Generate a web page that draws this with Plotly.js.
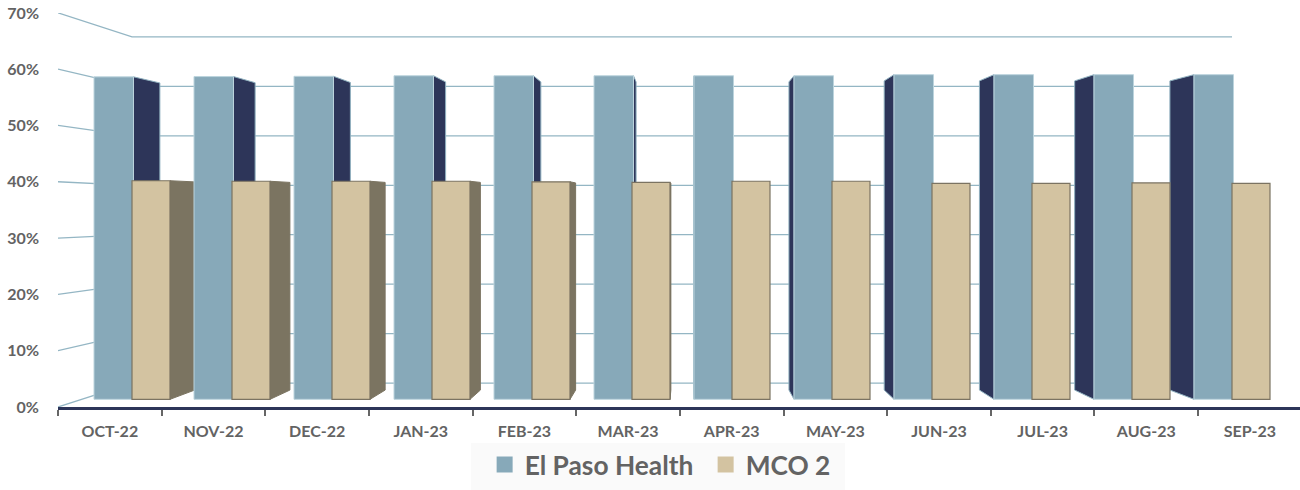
<!DOCTYPE html>
<html>
<head>
<meta charset="utf-8">
<script src="https://cdn.plot.ly/plotly-3.0.1.min.js"></script>
<style>html,body{margin:0;padding:0;background:#fff}#chart{width:1300px;height:490px}</style>
</head>
<body>
<div id="chart"></div>
<script>
// ---- data ----
const categories = ['OCT-22','NOV-22','DEC-22','JAN-23','FEB-23','MAR-23','APR-23','MAY-23','JUN-23','JUL-23','AUG-23','SEP-23'];
const elPasoHealth = [59.6,59.65,59.7,59.8,59.8,59.8,59.8,59.8,60.0,60.0,60.0,60.0];
const mco2 = [40.4,40.3,40.3,40.3,40.2,40.1,40.3,40.3,39.9,39.9,40.0,39.9];
const gridValues = [0,10,20,30,40,50,60,70];

// ---- styling and perspective model ----
const COLORS = {blue:'#87a9b9', blueEdge:'#bcd4dd', blueSide:'#2d3559', tan:'#d3c3a1', tanEdge:'#7b7362', tanSide:'#7b7461', grid:'#94b6c4', text:'#636363'};
const BAR_W = 0.395, TAN_OFF = 0.38, TAN_W = 0.38;
const VP_X = 5.94, VP_Y = 35.9, DEPTH = 0.0476;          // vanishing point in bar-plane units
const FRONT = {x:-0.36, a:1.0407, b:-1.42};               // front edge of the wall gridlines
const WALL  = {x0:0.38, x1:11.38, a:0.9137, b:3.01};      // back wall
const X_RANGE = [-0.36,12.06], Y_RANGE = [-1.42,71.4];

function sideFace(xf, v){
  const xb = xf + (VP_X-xf)*DEPTH;
  const yTop = v + (VP_Y-v)*DEPTH;
  const yBot = VP_Y*DEPTH;
  return {x:[xf,xb,xb,xf,xf], y:[v,yTop,yBot,0,v]};
}
function faceTrace(face,fill,edge){
  return {type:'scatter',mode:'lines',x:face.x,y:face.y,fill:'toself',fillcolor:fill,
    line:{color:edge,width:1},xaxis:'x2',yaxis:'y2',showlegend:false,hoverinfo:'skip'};
}

const traces = [];
// legend entries and the category axis
traces.push({type:'scatter',mode:'markers',name:'El Paso Health',x:categories,y:categories.map(()=>null),
  marker:{symbol:'square',size:16,color:COLORS.blue},xaxis:'x',yaxis:'y',hoverinfo:'skip'});
traces.push({type:'scatter',mode:'markers',name:'MCO 2',x:categories,y:categories.map(()=>null),
  marker:{symbol:'square',size:16,color:COLORS.tan},xaxis:'x',yaxis:'y',hoverinfo:'skip'});

// wall gridlines with their slanted lead-in from the front edge
gridValues.forEach(v=>{
  traces.push({type:'scatter',mode:'lines',
    x:[FRONT.x,WALL.x0,WALL.x1],
    y:[FRONT.a*v+FRONT.b,WALL.a*v+WALL.b,WALL.a*v+WALL.b],
    line:{color:COLORS.grid,width:1.3},xaxis:'x2',yaxis:'y2',showlegend:false,hoverinfo:'skip'});
});

// receding side faces
categories.forEach((c,i)=>{
  const l=i, r=i+BAR_W;
  if(r<VP_X) traces.push(faceTrace(sideFace(r,elPasoHealth[i]),COLORS.blueSide,'#8fb0bf'));
  else if(l>VP_X) traces.push(faceTrace(sideFace(l,elPasoHealth[i]),COLORS.blueSide,'#8fb0bf'));
  const tr=i+TAN_OFF+TAN_W;
  if(tr<VP_X) traces.push(faceTrace(sideFace(tr,mco2[i]),COLORS.tanSide,COLORS.tanSide));
});

// front faces
const idx = categories.map((c,i)=>i);
traces.push({type:'bar',name:'El Paso Health',x:idx,y:elPasoHealth,width:BAR_W,offset:0,
  marker:{color:COLORS.blue,line:{color:COLORS.blueEdge,width:1}},xaxis:'x3',yaxis:'y3',showlegend:false,
  text:categories,hovertemplate:'%{text}: %{y}%<extra>El Paso Health</extra>',textposition:'none'});
traces.push({type:'bar',name:'MCO 2',x:idx,y:mco2,width:TAN_W,offset:TAN_OFF,
  marker:{color:COLORS.tan,line:{color:COLORS.tanEdge,width:1.2}},xaxis:'x3',yaxis:'y3',showlegend:false,
  text:categories,hovertemplate:'%{text}: %{y}%<extra>MCO 2</extra>',textposition:'none'});

const hiddenX = a=>({type:'linear',range:X_RANGE,overlaying:'x',anchor:a,visible:false,fixedrange:true});
const hiddenY = a=>({type:'linear',range:Y_RANGE,overlaying:'y',anchor:a,visible:false,fixedrange:true});
const tickFont = {family:'Lato, "Open Sans", sans-serif',size:16,color:COLORS.text,weight:700};

const layout = {
  width:1300,height:490,
  margin:{l:58,r:0,t:13,b:83,autoexpand:false},
  paper_bgcolor:'#ffffff',plot_bgcolor:'rgba(0,0,0,0)',
  barmode:'overlay',
  xaxis:{type:'category',categoryorder:'array',categoryarray:categories,tickson:'boundaries',
    range:[-0.5,11.483],showgrid:false,showline:true,linecolor:COLORS.blueSide,linewidth:2.5,
    ticks:'outside',ticklen:6,tickwidth:1.5,tickcolor:'#666666',tickfont:tickFont,ticklabelstandoff:8,fixedrange:true,zeroline:false},
  yaxis:{type:'linear',range:[0,70],tickvals:gridValues,ticktext:gridValues.map(v=>v+'%'),showgrid:false,zeroline:false,
    showline:false,ticks:'',tickfont:tickFont,ticklabelstandoff:18,fixedrange:true},
  xaxis2:hiddenX('y2'),yaxis2:hiddenY('x2'),
  xaxis3:hiddenX('y3'),yaxis3:hiddenY('x3'),
  showlegend:true,
  legend:{orientation:'h',x:0.3435,xanchor:'left',y:-0.147,yanchor:'middle',bgcolor:'rgba(0,0,0,0)',
    font:{family:'Lato, "Open Sans", sans-serif',size:26.3,color:COLORS.text,weight:700},itemsizing:'trace',itemwidth:30,traceorder:'normal',
    entrywidth:176,entrywidthmode:'pixels'},
  shapes:[{type:'rect',xref:'paper',yref:'paper',x0:(471-58)/1242,x1:(845-58)/1242,y0:(407-490)/394,y1:(407-443)/394,
    fillcolor:'#fafafa',line:{width:0},layer:'below'}]
};

Plotly.newPlot('chart',traces,layout,{displayModeBar:false,responsive:false});
</script>
</body>
</html>
